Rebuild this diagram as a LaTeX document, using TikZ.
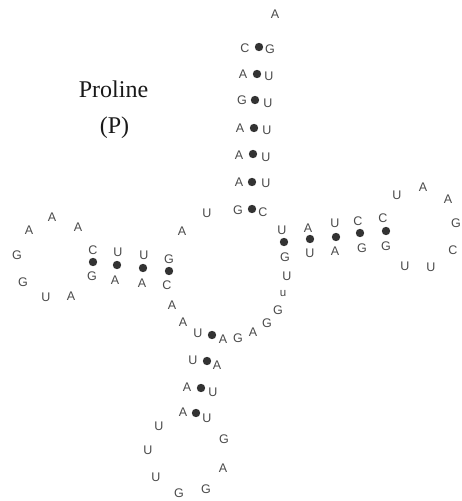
\documentclass[tikz,border=0pt]{standalone}
\usepackage{fontspec}
\setmainfont{Liberation Sans}
\newfontfamily\titlefont{Liberation Serif}
\definecolor{ntgray}{HTML}{4A4A4A}
\definecolor{dotgray}{HTML}{333333}
\begin{document}
\begin{tikzpicture}[x=1pt,y=-1pt,
  nt/.style={inner sep=0pt,text=ntgray,font=\fontsize{12.5}{13}\selectfont},
  ntl/.style={inner sep=0pt,text=ntgray,font=\fontsize{11.5}{12}\selectfont},
  bp/.style={circle,fill=dotgray,inner sep=0pt,minimum size=8.4pt},
  ttl/.style={inner sep=0pt,anchor=base,text=black!90,font=\titlefont\fontsize{24}{28}\selectfont}]
\useasboundingbox (0,0) rectangle (462,501);
\fill[white] (0,0) rectangle (462,501);
% title
\node[ttl] (t1) at (113.5,97) {Proline};
\node[ttl] (t2) at (114.5,133) {(P)};
% top stem
\node[nt] (a0) at (275,14) {A};
\node[nt] (s1l) at (245,48) {C}; \node[bp] (s1d) at (259,47) {}; \node[nt] (s1r) at (270,49) {G};
\node[nt] (s2l) at (243,74) {A}; \node[bp] (s2d) at (257,74) {}; \node[nt] (s2r) at (269,76) {U};
\node[nt] (s3l) at (242,100) {G}; \node[bp] (s3d) at (255,100) {}; \node[nt] (s3r) at (268,103) {U};
\node[nt] (s4l) at (240,128) {A}; \node[bp] (s4d) at (254,128) {}; \node[nt] (s4r) at (267,130) {U};
\node[nt] (s5l) at (239,155) {A}; \node[bp] (s5d) at (253,154) {}; \node[nt] (s5r) at (266,157) {U};
\node[nt] (s6l) at (239,182) {A}; \node[bp] (s6d) at (252,182) {}; \node[nt] (s6r) at (266,183) {U};
\node[nt] (s7l) at (238,210) {G}; \node[bp] (s7d) at (252,209) {}; \node[nt] (s7r) at (263,212) {C};
% junction
\node[nt] (j1) at (207,213) {U};
\node[nt] (j2) at (182,231) {A};
% left arm
\node[nt] (l1t) at (93,250) {C}; \node[bp] (l1d) at (93,262) {}; \node[nt] (l1b) at (92,276) {G};
\node[nt] (l2t) at (118,252) {U}; \node[bp] (l2d) at (117,265) {}; \node[nt] (l2b) at (115,280) {A};
\node[nt] (l3t) at (144,255) {U}; \node[bp] (l3d) at (143,268) {}; \node[nt] (l3b) at (142,283) {A};
\node[nt] (l4t) at (169,259) {G}; \node[bp] (l4d) at (169,271) {}; \node[nt] (l4b) at (167,285) {C};
\node[nt] (ll1) at (78,227) {A};
\node[nt] (ll2) at (52,217) {A};
\node[nt] (ll3) at (29,230) {A};
\node[nt] (ll4) at (17,255) {G};
\node[nt] (ll5) at (23,282) {G};
\node[nt] (ll6) at (46,297) {U};
\node[nt] (ll7) at (71,296) {A};
% lower left chain
\node[nt] (c1) at (172,305) {A};
\node[nt] (c2) at (183,322) {A};
% bottom stem
\node[nt] (b1l) at (198,333) {U}; \node[bp] (b1d) at (212,335) {}; \node[nt] (b1r) at (223,339) {A};
\node[nt] (b2l) at (193,360) {U}; \node[bp] (b2d) at (207,361) {}; \node[nt] (b2r) at (217,365) {A};
\node[nt] (b3l) at (187,387) {A}; \node[bp] (b3d) at (201,388) {}; \node[nt] (b3r) at (213,392) {U};
\node[nt] (b4l) at (183,412) {A}; \node[bp] (b4d) at (196,413) {}; \node[nt] (b4r) at (207,418) {U};
\node[nt] (bl1) at (159,426) {U};
\node[nt] (bl2) at (148,450) {U};
\node[nt] (bl3) at (156,477) {U};
\node[nt] (bl4) at (179,493) {G};
\node[nt] (bl5) at (206,489) {G};
\node[nt] (bl6) at (223,468) {A};
\node[nt] (bl7) at (224,439) {G};
% lower right chain
\node[nt] (r1) at (238,338) {G};
\node[nt] (r2) at (253,332) {A};
\node[nt] (r3) at (267,323) {G};
\node[nt] (r4) at (278,310) {G};
\node[ntl] (r5) at (283,294) {u};
\node[nt] (r6) at (287,276) {U};
% right arm
\node[nt] (p1t) at (282,230) {U}; \node[bp] (p1d) at (284,242) {}; \node[nt] (p1b) at (285,257) {G};
\node[nt] (p2t) at (308,228) {A}; \node[bp] (p2d) at (310,239) {}; \node[nt] (p2b) at (310,253) {U};
\node[nt] (p3t) at (335,223) {U}; \node[bp] (p3d) at (336,237) {}; \node[nt] (p3b) at (335,251) {A};
\node[nt] (p4t) at (358,221) {C}; \node[bp] (p4d) at (360,233) {}; \node[nt] (p4b) at (362,248) {G};
\node[nt] (p5t) at (383,218) {C}; \node[bp] (p5d) at (386,231) {}; \node[nt] (p5b) at (386,246) {G};
\node[nt] (pl1) at (397,195) {U};
\node[nt] (pl2) at (423,187) {A};
\node[nt] (pl3) at (448,199) {A};
\node[nt] (pl4) at (456,223) {G};
\node[nt] (pl5) at (453,250) {C};
\node[nt] (pl6) at (431,267) {U};
\node[nt] (pl7) at (405,266) {U};
\end{tikzpicture}
\end{document}
